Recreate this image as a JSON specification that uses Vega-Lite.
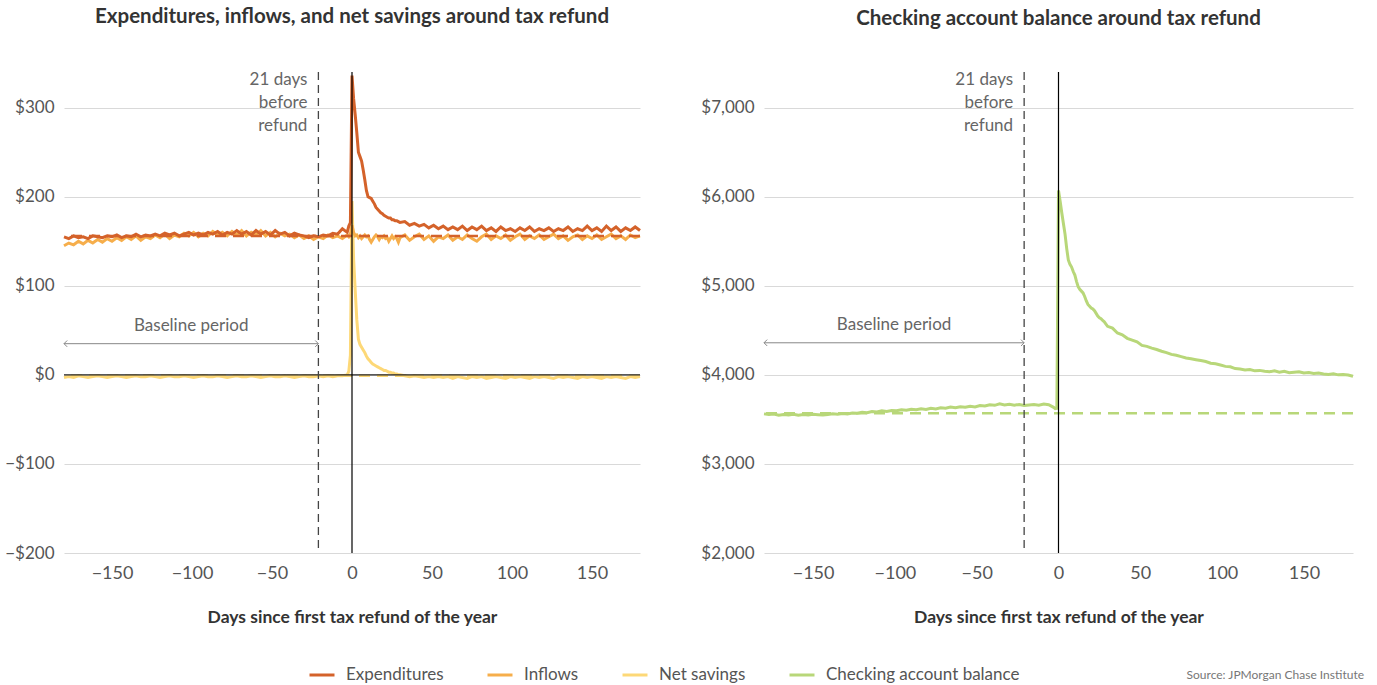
{
  "$schema": "https://vega.github.io/schema/vega-lite/v6.json",
  "background": "white",
  "padding": {"left": 4, "right": 10, "top": 7, "bottom": 0},
  "config": {
    "font": "Lato",
    "view": {"stroke": null},
    "axis": {"labelFont": "Lato", "labelFontSize": 18, "labelColor": "#555", "titleFont": "Lato", "titleFontSize": 17.5, "titleFontWeight": "bold", "titleColor": "#333", "ticks": false, "domain": false, "gridColor": "#d9d9d9", "gridWidth": 1},
    "title": {"font": "Lato", "fontSize": 20.5, "fontWeight": "bold", "color": "#333"},
    "legend": {"labelFont": "Lato", "labelFontSize": 17, "labelColor": "#555", "labelLimit": 400, "symbolType": "stroke", "symbolSize": 625, "symbolStrokeWidth": 3, "labelOffset": 10, "columnPadding": 37}
  },
  "datasets": {
    "main": [
      {"d":-180,"e":155,"i":145,"n":-3,"c":3562},{"d":-177,"e":153,"i":148,"n":-2,"c":3555},{"d":-174,"e":156,"i":146,"n":-3,"c":3560},{"d":-171,"e":154,"i":150,"n":-1,"c":3548},{"d":-168,"e":155,"i":147,"n":-2,"c":3556},{"d":-165,"e":153,"i":151,"n":-3,"c":3550},{"d":-162,"e":156,"i":148,"n":-2,"c":3558},{"d":-159,"e":155,"i":152,"n":-1,"c":3546},{"d":-156,"e":154,"i":149,"n":-2,"c":3554},{"d":-153,"e":156,"i":153,"n":-3,"c":3549},
      {"d":-150,"e":155,"i":150,"n":-2,"c":3557},{"d":-147,"e":157,"i":154,"n":-1,"c":3552},{"d":-144,"e":154,"i":151,"n":-2,"c":3548},{"d":-141,"e":156,"i":155,"n":-3,"c":3556},{"d":-138,"e":155,"i":152,"n":-2,"c":3562},{"d":-135,"e":158,"i":156,"n":-1,"c":3557},{"d":-132,"e":155,"i":151,"n":-2,"c":3566},{"d":-129,"e":157,"i":155,"n":-2,"c":3561},{"d":-126,"e":156,"i":153,"n":-1,"c":3572},{"d":-123,"e":158,"i":157,"n":-2,"c":3568},
      {"d":-120,"e":156,"i":154,"n":-3,"c":3580},{"d":-117,"e":159,"i":158,"n":-2,"c":3575},{"d":-114,"e":157,"i":153,"n":-1,"c":3588},{"d":-111,"e":159,"i":157,"n":-2,"c":3584},{"d":-108,"e":156,"i":155,"n":-2,"c":3596},{"d":-105,"e":158,"i":159,"n":-1,"c":3590},{"d":-102,"e":160,"i":156,"n":-2,"c":3600},{"d":-99,"e":157,"i":160,"n":-3,"c":3596},{"d":-96,"e":159,"i":155,"n":-2,"c":3608},{"d":-93,"e":157,"i":159,"n":-1,"c":3602},
      {"d":-90,"e":160,"i":156,"n":-2,"c":3614},{"d":-87,"e":158,"i":161,"n":-2,"c":3608},{"d":-84,"e":161,"i":157,"n":-1,"c":3618},{"d":-81,"e":157,"i":160,"n":-2,"c":3612},{"d":-78,"e":160,"i":156,"n":-3,"c":3624},{"d":-75,"e":158,"i":161,"n":-2,"c":3618},{"d":-72,"e":162,"i":157,"n":-1,"c":3630},{"d":-69,"e":158,"i":162,"n":-2,"c":3626},{"d":-66,"e":161,"i":156,"n":-2,"c":3638},{"d":-63,"e":157,"i":160,"n":-1,"c":3632},
      {"d":-60,"e":162,"i":157,"n":-2,"c":3642},{"d":-57,"e":158,"i":162,"n":-3,"c":3636},{"d":-54,"e":161,"i":156,"n":-2,"c":3648},{"d":-51,"e":157,"i":160,"n":-1,"c":3640},{"d":-48,"e":162,"i":155,"n":-2,"c":3656},{"d":-45,"e":158,"i":159,"n":-2,"c":3650},{"d":-42,"e":160,"i":156,"n":-1,"c":3664},{"d":-39,"e":156,"i":158,"n":-2,"c":3658},{"d":-36,"e":159,"i":154,"n":-3,"c":3676},{"d":-33,"e":157,"i":157,"n":-2,"c":3662},
      {"d":-30,"e":156,"i":153,"n":-1,"c":3670},{"d":-27,"e":154,"i":156,"n":-2,"c":3660},{"d":-24,"e":156,"i":152,"n":-2,"c":3668},{"d":-21,"e":155,"i":155,"n":-1,"c":3655},{"d":-18,"e":157,"i":153,"n":-2,"c":3662},{"d":-15,"e":156,"i":157,"n":-1,"c":3668},{"d":-12,"e":159,"i":154,"n":-2,"c":3660},{"d":-9,"e":158,"i":156,"n":-1,"c":3672},{"d":-6,"e":164,"i":153,"n":-1,"c":3664},{"d":-3,"e":160,"i":157,"n":0,"c":3635},
      {"d":-2,"e":167,"i":155,"n":4,"c":3620},{"d":-1,"e":171,"i":158,"n":22,"c":3625},{"d":0,"e":336,"i":168,"n":195,"c":6070},{"d":1,"e":310,"i":160,"n":130,"c":5950},{"d":2,"e":292,"i":156,"n":95,"c":5820},{"d":3,"e":272,"i":157,"n":62,"c":5700},{"d":4,"e":250,"i":154,"n":40,"c":5580},{"d":5,"e":245,"i":156,"n":34,"c":5420},{"d":6,"e":240,"i":153,"n":31,"c":5290},{"d":7,"e":230,"i":155,"n":28,"c":5240},
      {"d":8,"e":219,"i":157,"n":25,"c":5210},{"d":9,"e":207,"i":155,"n":21,"c":5160},{"d":10,"e":200,"i":156,"n":18,"c":5120},{"d":11,"e":199,"i":152,"n":16,"c":5050},{"d":12,"e":198,"i":149,"n":14,"c":4990},{"d":13,"e":195,"i":152,"n":12,"c":4960},{"d":14,"e":192,"i":155,"n":11,"c":4940},{"d":15,"e":188,"i":157,"n":10,"c":4920},{"d":16,"e":186,"i":155,"n":9,"c":4880},{"d":17,"e":184,"i":152,"n":8,"c":4830},
      {"d":18,"e":182,"i":155,"n":7,"c":4790},{"d":19,"e":181,"i":154,"n":6,"c":4770},{"d":20,"e":179,"i":156,"n":5,"c":4750},{"d":21,"e":178,"i":153,"n":5,"c":4740},{"d":22,"e":177,"i":154,"n":4,"c":4720},{"d":23,"e":176,"i":150,"n":3,"c":4690},{"d":24,"e":176,"i":153,"n":3,"c":4660},{"d":25,"e":174,"i":156,"n":2,"c":4640},{"d":26,"e":174,"i":153,"n":2,"c":4630},{"d":27,"e":173,"i":155,"n":1,"c":4610},
      {"d":28,"e":173,"i":153,"n":1,"c":4595},{"d":29,"e":172,"i":149,"n":0,"c":4570},{"d":30,"e":171,"i":154,"n":0,"c":4545},{"d":33,"e":172,"i":157,"n":-1,"c":4525},{"d":36,"e":168,"i":151,"n":-2,"c":4470},{"d":39,"e":170,"i":155,"n":-1,"c":4450},{"d":42,"e":167,"i":158,"n":-2,"c":4410},{"d":45,"e":169,"i":152,"n":-3,"c":4390},{"d":48,"e":165,"i":156,"n":-2,"c":4370},{"d":51,"e":168,"i":150,"n":-3,"c":4330},
      {"d":54,"e":164,"i":155,"n":-2,"c":4320},{"d":57,"e":167,"i":153,"n":-3,"c":4300},{"d":60,"e":163,"i":157,"n":-2,"c":4285},{"d":63,"e":166,"i":151,"n":-4,"c":4265},{"d":66,"e":163,"i":155,"n":-2,"c":4250},{"d":69,"e":167,"i":152,"n":-3,"c":4230},{"d":72,"e":162,"i":157,"n":-4,"c":4220},{"d":75,"e":166,"i":153,"n":-2,"c":4205},{"d":78,"e":163,"i":150,"n":-3,"c":4190},{"d":81,"e":167,"i":155,"n":-2,"c":4180},
      {"d":84,"e":162,"i":158,"n":-4,"c":4170},{"d":87,"e":165,"i":152,"n":-3,"c":4160},{"d":90,"e":161,"i":156,"n":-2,"c":4150},{"d":93,"e":166,"i":153,"n":-3,"c":4130},{"d":96,"e":162,"i":157,"n":-4,"c":4125},{"d":99,"e":164,"i":151,"n":-2,"c":4110},{"d":102,"e":161,"i":155,"n":-3,"c":4095},{"d":105,"e":165,"i":158,"n":-2,"c":4090},{"d":108,"e":162,"i":152,"n":-3,"c":4070},{"d":111,"e":166,"i":156,"n":-4,"c":4065},
      {"d":114,"e":161,"i":153,"n":-2,"c":4055},{"d":117,"e":164,"i":157,"n":-3,"c":4060},{"d":120,"e":162,"i":152,"n":-2,"c":4045},{"d":123,"e":165,"i":155,"n":-3,"c":4050},{"d":126,"e":161,"i":158,"n":-4,"c":4040},{"d":129,"e":164,"i":153,"n":-2,"c":4035},{"d":132,"e":162,"i":156,"n":-3,"c":4045},{"d":135,"e":166,"i":151,"n":-2,"c":4030},{"d":138,"e":161,"i":155,"n":-3,"c":4040},{"d":141,"e":164,"i":157,"n":-4,"c":4025},
      {"d":144,"e":162,"i":152,"n":-2,"c":4030},{"d":147,"e":167,"i":156,"n":-3,"c":4035},{"d":150,"e":162,"i":153,"n":-2,"c":4020},{"d":153,"e":165,"i":157,"n":-3,"c":4025},{"d":156,"e":161,"i":152,"n":-4,"c":4015},{"d":159,"e":167,"i":155,"n":-2,"c":4020},{"d":162,"e":162,"i":158,"n":-3,"c":4010},{"d":165,"e":166,"i":153,"n":-2,"c":4005},{"d":168,"e":161,"i":156,"n":-3,"c":4012},{"d":171,"e":165,"i":152,"n":-4,"c":4000},
      {"d":174,"e":162,"i":157,"n":-2,"c":4005},{"d":177,"e":166,"i":154,"n":-3,"c":3998},{"d":180,"e":162,"i":156,"n":-2,"c":3985}
    ],
    "baseLeft": [{"s":"e","b":156},{"s":"n","b":-1}],
    "baseRight": [{"s":"c","b":3570}],
    "one": [{}]
  },
  "title": {"text": "Source: JPMorgan Chase Institute", "orient": "bottom", "anchor": "end", "fontSize": 12, "fontWeight": "normal", "color": "#777", "offset": -13, "dx": 5},
  "resolve": {"scale": {"color": "shared"}},
  "spacing": 54,
  "hconcat": [
    {
      "width": 576,
      "height": 481,
      "title": {"text": "Expenditures, inflows, and net savings around tax refund", "offset": 42},
      "layer": [
        {
          "data": {"name": "main"},
          "transform": [{"fold": ["n", "i", "e"], "as": ["s", "v"]}],
          "mark": {"type": "line", "strokeWidth": 3},
          "encoding": {
            "x": {"field": "d", "type": "quantitative", "scale": {"domain": [-180, 180], "nice": false, "zero": false}, "axis": {"values": [-150, -100, -50, 0, 50, 100, 150], "grid": false, "labelPadding": 11, "title": "Days since first tax refund of the year", "titlePadding": 26}},
            "y": {"field": "v", "type": "quantitative", "scale": {"domain": [-200, 340], "nice": false, "zero": false}, "axis": {"values": [-200, -100, 0, 100, 200, 300], "format": "$,.0f", "labelFontSize": 17, "labelPadding": 10, "title": null}},
            "color": {"field": "s", "type": "nominal", "scale": {"domain": ["e", "i", "n", "c"], "range": ["#D4622A", "#F6AE4B", "#FDD877", "#B8D779"]}, "legend": {"orient": "none", "direction": "horizontal", "legendX": 244, "legendY": 589, "title": null, "labelExpr": "datum.value == 'e' ? 'Expenditures' : datum.value == 'i' ? 'Inflows' : datum.value == 'n' ? 'Net savings' : 'Checking account balance'"}}
          }
        },
        {
          "data": {"name": "baseLeft"},
          "mark": {"type": "rule", "strokeWidth": 2.5, "strokeDash": [11, 7]},
          "encoding": {
            "y": {"field": "b", "type": "quantitative"},
            "color": {"field": "s", "type": "nominal"}
          }
        },
        {
          "data": {"name": "one"},
          "mark": {"type": "rule", "color": "#222", "strokeWidth": 1.2},
          "encoding": {"y": {"datum": 0}}
        },
        {
          "data": {"name": "one"},
          "mark": {"type": "rule", "color": "#444", "strokeWidth": 1.3, "strokeDash": [8, 5]},
          "encoding": {"x": {"datum": -21}}
        },
        {
          "data": {"name": "one"},
          "mark": {"type": "rule", "color": "#000", "strokeWidth": 1.2},
          "encoding": {"x": {"datum": 0}}
        },
        {
          "data": {"name": "one"},
          "mark": {"type": "text", "align": "right", "baseline": "top", "dx": -11, "dy": 0, "fontSize": 17, "color": "#666", "lineHeight": 23},
          "encoding": {"x": {"datum": -21}, "y": {"datum": 340}, "text": {"value": ["21 days", "before", "refund"]}}
        },
        {
          "data": {"name": "one"},
          "mark": {"type": "text", "align": "center", "baseline": "middle", "fontSize": 17, "color": "#666"},
          "encoding": {"x": {"datum": -100.5}, "y": {"datum": 55}, "text": {"value": "Baseline period"}}
        },
        {
          "data": {"name": "one"},
          "mark": {"type": "rule", "color": "#888", "strokeWidth": 1},
          "encoding": {"x": {"datum": -180}, "x2": {"datum": -21}, "y": {"datum": 35}}
        },
        {
          "data": {"name": "one"},
          "mark": {"type": "point", "shape": "M1,-1L0,0L1,1", "filled": false, "stroke": "#888", "strokeWidth": 1, "size": 40, "opacity": 1},
          "encoding": {"x": {"datum": -180}, "y": {"datum": 35}}
        },
        {
          "data": {"name": "one"},
          "mark": {"type": "point", "shape": "M-1,-1L0,0L-1,1", "filled": false, "stroke": "#888", "strokeWidth": 1, "size": 40, "opacity": 1},
          "encoding": {"x": {"datum": -21}, "y": {"datum": 35}}
        }
      ]
    },
    {
      "width": 589,
      "height": 481,
      "title": {"text": "Checking account balance around tax refund", "offset": 42},
      "layer": [
        {
          "data": {"name": "main"},
          "transform": [{"fold": ["c"], "as": ["s", "v"]}],
          "mark": {"type": "line", "strokeWidth": 3},
          "encoding": {
            "x": {"field": "d", "type": "quantitative", "scale": {"domain": [-180, 180], "nice": false, "zero": false}, "axis": {"values": [-150, -100, -50, 0, 50, 100, 150], "grid": false, "labelPadding": 11, "title": "Days since first tax refund of the year", "titlePadding": 26}},
            "y": {"field": "v", "type": "quantitative", "scale": {"domain": [2000, 7400], "nice": false, "zero": false}, "axis": {"values": [2000, 3000, 4000, 5000, 6000, 7000], "format": "$,.0f", "labelFontSize": 17, "labelPadding": 10, "title": null}},
            "color": {"field": "s", "type": "nominal"}
          }
        },
        {
          "data": {"name": "baseRight"},
          "mark": {"type": "rule", "strokeWidth": 2.5, "strokeDash": [11, 7]},
          "encoding": {
            "y": {"field": "b", "type": "quantitative"},
            "color": {"field": "s", "type": "nominal"}
          }
        },
        {
          "data": {"name": "one"},
          "mark": {"type": "rule", "color": "#444", "strokeWidth": 1.3, "strokeDash": [8, 5]},
          "encoding": {"x": {"datum": -21}}
        },
        {
          "data": {"name": "one"},
          "mark": {"type": "rule", "color": "#000", "strokeWidth": 1.2},
          "encoding": {"x": {"datum": 0}}
        },
        {
          "data": {"name": "one"},
          "mark": {"type": "text", "align": "right", "baseline": "top", "dx": -11, "dy": 0, "fontSize": 17, "color": "#666", "lineHeight": 23},
          "encoding": {"x": {"datum": -21}, "y": {"datum": 7400}, "text": {"value": ["21 days", "before", "refund"]}}
        },
        {
          "data": {"name": "one"},
          "mark": {"type": "text", "align": "center", "baseline": "middle", "fontSize": 17, "color": "#666"},
          "encoding": {"x": {"datum": -100.5}, "y": {"datum": 4560}, "text": {"value": "Baseline period"}}
        },
        {
          "data": {"name": "one"},
          "mark": {"type": "rule", "color": "#888", "strokeWidth": 1},
          "encoding": {"x": {"datum": -180}, "x2": {"datum": -21}, "y": {"datum": 4360}}
        },
        {
          "data": {"name": "one"},
          "mark": {"type": "point", "shape": "M1,-1L0,0L1,1", "filled": false, "stroke": "#888", "strokeWidth": 1, "size": 40, "opacity": 1},
          "encoding": {"x": {"datum": -180}, "y": {"datum": 4360}}
        },
        {
          "data": {"name": "one"},
          "mark": {"type": "point", "shape": "M-1,-1L0,0L-1,1", "filled": false, "stroke": "#888", "strokeWidth": 1, "size": 40, "opacity": 1},
          "encoding": {"x": {"datum": -21}, "y": {"datum": 4360}}
        }
      ]
    }
  ]
}
